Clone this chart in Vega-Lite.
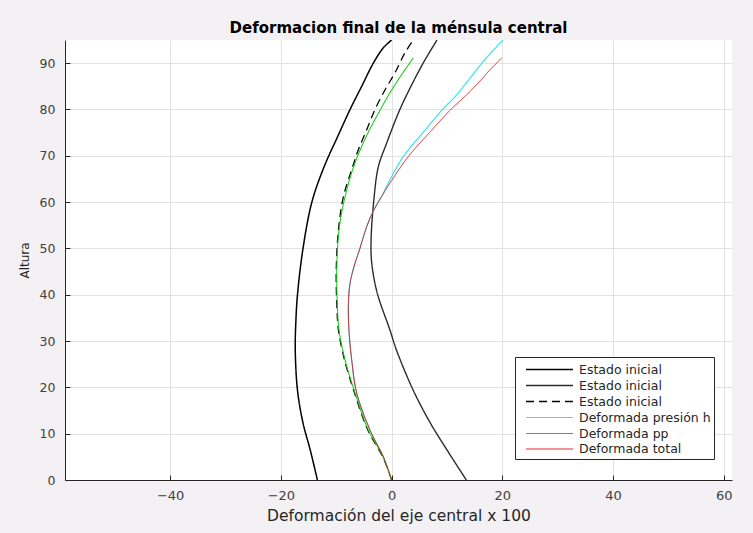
{
  "$schema": "https://vega.github.io/schema/vega-lite/v6.json",
  "width": 667,
  "height": 440,
  "autosize": "none",
  "padding": {"left": 65, "top": 40, "right": 21, "bottom": 53},
  "background": "#f4f1f4",
  "title": {"text": "Deformacion final de la ménsula central", "fontSize": 15, "fontWeight": "bold", "font": "DejaVu Sans", "color": "#000000", "anchor": "middle", "offset": 4},
  "config": {
    "view": {"fill": "#ffffff", "stroke": null},
    "font": "DejaVu Sans",
    "axis": {"gridColor": "#e2e2e2", "gridWidth": 1, "domainColor": "#262626", "tickColor": "#262626", "labelColor": "#404040", "labelFontSize": 13, "titleFontSize": 15.5, "titleFontWeight": "normal", "titleColor": "#262626", "labelFont": "DejaVu Sans", "titleFont": "DejaVu Sans"},
    "legend": {"orient": "none", "legendX": 450, "legendY": 317, "symbolType": "M-2.76,0H2.76", "symbolSize": 289, "symbolOffset": 22, "labelOffset": 20, "fillColor": "#ffffff", "strokeColor": "#262626", "padding": 3, "rowPadding": 0, "labelFontSize": 12.5, "labelColor": "#262626", "labelFont": "DejaVu Sans", "labelLimit": 300}
  },
  "data": {"values": [
    {"s":"a","i":0,"x":-13.4,"y":0},{"s":"a","i":1,"x":-14.7,"y":6.5},{"s":"a","i":2,"x":-16,"y":12.3},{"s":"a","i":3,"x":-17,"y":19.4},{"s":"a","i":4,"x":-17.4,"y":28},{"s":"a","i":5,"x":-17.3,"y":34},{"s":"a","i":6,"x":-17,"y":40},{"s":"a","i":7,"x":-16,"y":50},{"s":"a","i":8,"x":-14.4,"y":60},{"s":"a","i":9,"x":-12.2,"y":67.6},{"s":"a","i":10,"x":-9.8,"y":74},{"s":"a","i":11,"x":-7.5,"y":80},{"s":"a","i":12,"x":-5.4,"y":85},{"s":"a","i":13,"x":-3.3,"y":90},{"s":"a","i":14,"x":-1.5,"y":93.3},{"s":"a","i":15,"x":0,"y":95},
    {"s":"b","i":0,"x":13.5,"y":0},{"s":"b","i":1,"x":10,"y":6.5},{"s":"b","i":2,"x":7,"y":12.3},{"s":"b","i":3,"x":3.9,"y":19.4},{"s":"b","i":4,"x":0.9,"y":28},{"s":"b","i":5,"x":-0.3,"y":32.4},{"s":"b","i":6,"x":-2.6,"y":40.4},{"s":"b","i":7,"x":-3.6,"y":47},{"s":"b","i":8,"x":-3.7,"y":52},{"s":"b","i":9,"x":-3.2,"y":60.5},{"s":"b","i":10,"x":-2.4,"y":67.6},{"s":"b","i":11,"x":-0.9,"y":72.7},{"s":"b","i":12,"x":1.5,"y":80},{"s":"b","i":13,"x":3.5,"y":85},{"s":"b","i":14,"x":5.7,"y":90},{"s":"b","i":15,"x":8.2,"y":95},
    {"s":"c","i":0,"x":0,"y":0},{"s":"c","i":1,"x":-1.6,"y":5},{"s":"c","i":2,"x":-4.3,"y":10.8},{"s":"c","i":3,"x":-6.7,"y":18.8},{"s":"c","i":4,"x":-8.5,"y":25.9},{"s":"c","i":5,"x":-9.6,"y":32.4},{"s":"c","i":6,"x":-9.9,"y":38},{"s":"c","i":7,"x":-10,"y":45.4},{"s":"c","i":8,"x":-9.6,"y":54},{"s":"c","i":9,"x":-8.7,"y":61.2},{"s":"c","i":10,"x":-7.2,"y":67},{"s":"c","i":11,"x":-6,"y":71.3},{"s":"c","i":12,"x":-4.5,"y":75.6},{"s":"c","i":13,"x":-3,"y":80},{"s":"c","i":14,"x":-1.2,"y":84.2},{"s":"c","i":15,"x":0.6,"y":87.9},{"s":"c","i":16,"x":2.4,"y":92.2},{"s":"c","i":17,"x":3.9,"y":95},
    {"s":"d","i":0,"x":0,"y":0},{"s":"d","i":1,"x":-1.5,"y":5},{"s":"d","i":2,"x":-3.9,"y":10.8},{"s":"d","i":3,"x":-6.3,"y":18.8},{"s":"d","i":4,"x":-7.2,"y":25.9},{"s":"d","i":5,"x":-7.7,"y":32.4},{"s":"d","i":6,"x":-7.8,"y":38},{"s":"d","i":7,"x":-7.5,"y":42.5},{"s":"d","i":8,"x":-6.8,"y":46},{"s":"d","i":9,"x":-5.8,"y":49.7},{"s":"d","i":10,"x":-4.4,"y":55},{"s":"d","i":11,"x":-3.2,"y":58.3},{"s":"d","i":12,"x":-1.7,"y":61.5},{"s":"d","i":13,"x":-0.6,"y":64.1},{"s":"d","i":14,"x":2.1,"y":69.8},{"s":"d","i":15,"x":6.1,"y":75.6},{"s":"d","i":16,"x":9.2,"y":80},{"s":"d","i":17,"x":11.5,"y":82.8},{"s":"d","i":18,"x":14,"y":86.5},{"s":"d","i":19,"x":16.3,"y":90},{"s":"d","i":20,"x":18.3,"y":92.7},{"s":"d","i":21,"x":20.1,"y":95},
    {"s":"e","i":0,"x":0,"y":0},{"s":"e","i":1,"x":-1.5,"y":5},{"s":"e","i":2,"x":-4.2,"y":10.8},{"s":"e","i":3,"x":-6.6,"y":18.8},{"s":"e","i":4,"x":-8.4,"y":25.9},{"s":"e","i":5,"x":-9.5,"y":32.4},{"s":"e","i":6,"x":-9.8,"y":38},{"s":"e","i":7,"x":-9.9,"y":45.4},{"s":"e","i":8,"x":-9.5,"y":54},{"s":"e","i":9,"x":-8.4,"y":61.2},{"s":"e","i":10,"x":-6.6,"y":68.5},{"s":"e","i":11,"x":-4,"y":75.6},{"s":"e","i":12,"x":-2,"y":80},{"s":"e","i":13,"x":-0.6,"y":83},{"s":"e","i":14,"x":1.3,"y":86.6},{"s":"e","i":15,"x":3.9,"y":91.1},
    {"s":"f","i":0,"x":0,"y":0},{"s":"f","i":1,"x":-1.5,"y":5},{"s":"f","i":2,"x":-3.9,"y":10.8},{"s":"f","i":3,"x":-6.3,"y":18.8},{"s":"f","i":4,"x":-7.2,"y":25.9},{"s":"f","i":5,"x":-7.7,"y":32.4},{"s":"f","i":6,"x":-7.8,"y":38},{"s":"f","i":7,"x":-7.5,"y":42.5},{"s":"f","i":8,"x":-6.8,"y":46},{"s":"f","i":9,"x":-5.8,"y":49.7},{"s":"f","i":10,"x":-4.4,"y":55},{"s":"f","i":11,"x":-3.2,"y":58.3},{"s":"f","i":12,"x":-1.5,"y":61.8},{"s":"f","i":13,"x":-0.3,"y":64.1},{"s":"f","i":14,"x":3,"y":69.8},{"s":"f","i":15,"x":7.3,"y":75.6},{"s":"f","i":16,"x":10.7,"y":80},{"s":"f","i":17,"x":13.4,"y":83},{"s":"f","i":18,"x":15.8,"y":85.9},{"s":"f","i":19,"x":17.8,"y":88.6},{"s":"f","i":20,"x":19.9,"y":91.1}
  ]},
  "mark": {"type": "line", "clip": true, "interpolate": "catmull-rom"},
  "encoding": {
    "x": {"field": "x", "type": "quantitative", "scale": {"domain": [-59, 61.5], "nice": false, "zero": false},
      "axis": {"values": [-40, -20, 0, 20, 40, 60], "title": "Deformación del eje central x 100", "tickSize": -5, "labelPadding": 14, "titlePadding": 6}},
    "y": {"field": "y", "type": "quantitative", "scale": {"domain": [0, 95], "nice": false},
      "axis": {"values": [0, 10, 20, 30, 40, 50, 60, 70, 80, 90], "title": "Altura", "labelFontSize": 12.5, "titleFont": "DejaVu Sans", "titleFontSize": 12, "tickSize": -5, "labelPadding": 15, "titlePadding": 8}},
    "order": {"field": "i", "type": "quantitative"},
    "color": {"field": "s", "type": "nominal", "title": null,
      "scale": {"domain": ["a","b","c","d","e","f"], "range": ["#000000","#2a2a2a","#000000","#33e3ee","#10cc10","#e01010"]},
      "legend": {"labelExpr": "{'a':'Estado inicial','b':'Estado inicial','c':'Estado inicial','d':'Deformada presión h','e':'Deformada pp','f':'Deformada total'}[datum.label]"}},
    "strokeDash": {"field": "s", "type": "nominal", "title": null,
      "scale": {"domain": ["a","b","c","d","e","f"], "range": [[1,0],[1,0],[8,5],[1,0],[1,0],[1,0]]},
      "legend": {"labelExpr": "{'a':'Estado inicial','b':'Estado inicial','c':'Estado inicial','d':'Deformada presión h','e':'Deformada pp','f':'Deformada total'}[datum.label]"}},
    "strokeWidth": {"field": "s", "type": "nominal", "title": null,
      "scale": {"domain": ["a","b","c","d","e","f"], "range": [1.5,0.9,1.1,1.1,1.1,1.1]},
      "legend": {"labelExpr": "{'a':'Estado inicial','b':'Estado inicial','c':'Estado inicial','d':'Deformada presión h','e':'Deformada pp','f':'Deformada total'}[datum.label]"}}
  }
}
